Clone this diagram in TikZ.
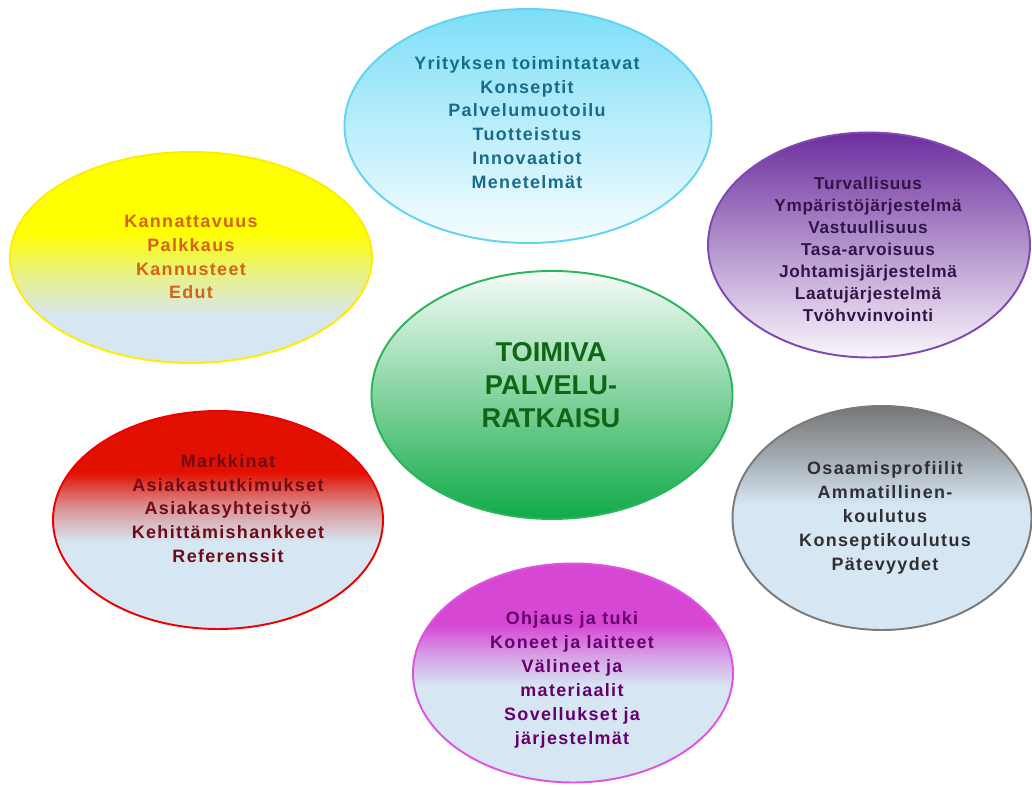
\documentclass[tikz,border=0pt]{standalone}
\usepackage{fontspec}
\setmainfont{Liberation Sans}
\newfontfamily\bubblefont[LetterSpace=7.5]{Liberation Sans}
\newfontfamily\tightfont[LetterSpace=4]{Liberation Sans}
\usetikzlibrary{shapes.geometric}

\definecolor{paleblue}{RGB}{214,230,243}
\definecolor{skyfill}{RGB}{124,222,248}
\definecolor{skyline}{RGB}{96,212,242}
\definecolor{skytext}{RGB}{24,108,138}
\definecolor{sunfill}{RGB}{255,255,0}
\definecolor{sunline}{RGB}{255,236,0}
\definecolor{suntext}{RGB}{212,100,20}
\definecolor{plumfill}{RGB}{108,46,158}
\definecolor{plumline}{RGB}{128,72,178}
\definecolor{plumtext}{RGB}{52,20,72}
\definecolor{leaffill}{RGB}{16,170,70}
\definecolor{leafline}{RGB}{40,182,92}
\definecolor{leaftext}{RGB}{16,102,20}
\definecolor{firefill}{RGB}{226,16,0}
\definecolor{fireline}{RGB}{238,0,0}
\definecolor{firetext}{RGB}{112,10,22}
\definecolor{ashfill}{RGB}{118,118,118}
\definecolor{ashline}{RGB}{122,122,122}
\definecolor{ashtext}{RGB}{48,48,52}
\definecolor{pinkfill}{RGB}{214,72,212}
\definecolor{pinkline}{RGB}{222,84,222}
\definecolor{pinktext}{RGB}{100,0,110}

% vertical fades: 25bp = bottom of the shape, 75bp = top
\pgfdeclareverticalshading{sunfade}{100bp}{color(0bp)=(paleblue); color(36bp)=(paleblue);
  color(46bp)=(sunfill!45!paleblue); color(56bp)=(sunfill); color(100bp)=(sunfill)}
\pgfdeclareverticalshading{firefade}{100bp}{color(0bp)=(paleblue); color(45bp)=(paleblue);
  color(53bp)=(firefill!40!paleblue); color(61bp)=(firefill); color(100bp)=(firefill)}
\pgfdeclareverticalshading{pinkfade}{100bp}{color(0bp)=(paleblue); color(47bp)=(paleblue);
  color(54bp)=(pinkfill!45!paleblue); color(61bp)=(pinkfill); color(100bp)=(pinkfill)}
\pgfdeclareverticalshading{ashfade}{100bp}{color(0bp)=(paleblue); color(53bp)=(paleblue);
  color(64bp)=(ashfill!55!paleblue); color(75bp)=(ashfill); color(100bp)=(ashfill)}

\begin{document}
\begin{tikzpicture}[
        bubble/.style={ellipse, line width=1.1pt, inner sep=0pt},
        lbl/.style={align=center, font=\bubblefont\bfseries\fontsize{10.2}{13.6}\selectfont},
        hub/.style={align=center, font=\bfseries\fontsize{15.5}{18.7}\selectfont},
    ]
    \useasboundingbox (0,0) rectangle (20.64,15.74);

    % ===== Bubbles =====
    \node[bubble, draw=skyline, top color=skyfill, bottom color=white!94!skyfill,
          minimum width=7.34cm, minimum height=4.68cm] (YRI) at (10.56,13.22) {};
    \node[bubble, draw=sunline, shading=sunfade,
          minimum width=7.24cm, minimum height=4.22cm] (KAN) at (3.82,10.59) {};
    \node[bubble, draw=plumline, top color=plumfill, bottom color=white!96!plumfill,
          minimum width=6.44cm, minimum height=4.50cm] (TUR) at (17.38,10.84) {};
    \node[bubble, draw=leafline, top color=white!97!leaffill, bottom color=leaffill,
          minimum width=7.22cm, minimum height=4.96cm] (TOI) at (11.04,7.84) {};
    \node[bubble, draw=fireline, shading=firefade,
          minimum width=6.60cm, minimum height=4.36cm] (MAR) at (4.36,5.34) {};
    \node[bubble, draw=ashline, shading=ashfade,
          minimum width=5.98cm, minimum height=4.48cm] (OSA) at (17.64,5.38) {};
    \node[bubble, draw=pinkline, shading=pinkfade,
          minimum width=6.40cm, minimum height=4.38cm] (OHJ) at (11.46,2.28) {};

    % ===== Texts =====
    \node[lbl, skytext] (YRIt) at (10.54,13.29) {Yrityksen toimintatavat\\Konseptit\\Palvelumuotoilu\\Tuotteistus\\Innovaatiot\\Menetelmät};
    \node[lbl, suntext] (KANt) at (3.82,10.60) {Kannattavuus\\Palkkaus\\Kannusteet\\Edut};
    \node[lbl, plumtext, font=\tightfont\bfseries\fontsize{9.8}{12.5}\selectfont] (TURt) at (17.36,10.76)
        {Turvallisuus\\Ympäristöjärjestelmä\\Vastuullisuus\\Tasa-arvoisuus\\Johtamisjärjestelmä\\Laatujärjestelmä\\Tvöhvvinvointi};
    \node[hub, leaftext] (TOIt) at (11.02,8.04) {TOIMIVA\\PALVELU-\\RATKAISU};
    \node[lbl, firetext] (MARt) at (4.56,5.57) {Markkinat\\Asiakastutkimukset\\Asiakasyhteistyö\\Kehittämishankkeet\\Referenssit};
    \node[lbl, ashtext] (OSAt) at (17.70,5.38) {Osaamisprofiilit\\Ammatillinen-\\koulutus\\Konseptikoulutus\\Pätevyydet};
    \node[lbl, pinktext] (OHJt) at (11.44,2.14) {Ohjaus ja tuki\\Koneet ja laitteet\\Välineet ja\\materiaalit\\Sovellukset ja\\järjestelmät};

\end{tikzpicture}
\end{document}
